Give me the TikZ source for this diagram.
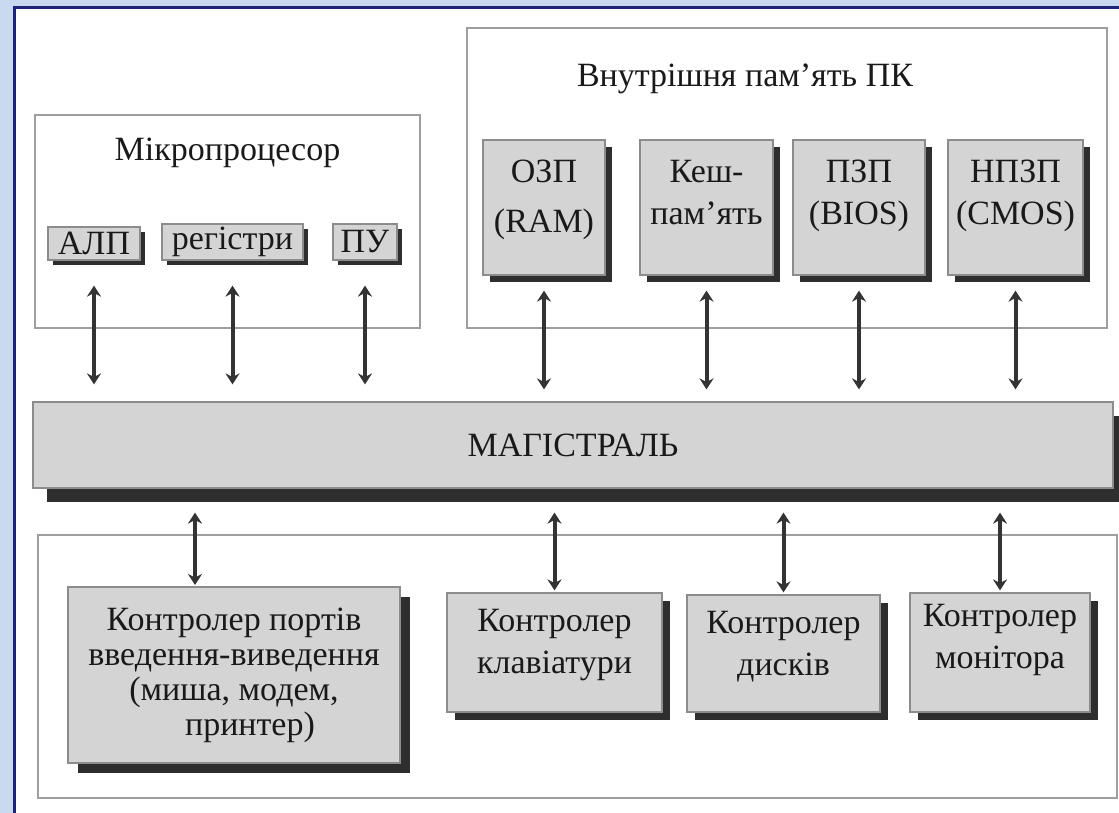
\documentclass[tikz,border=0pt]{standalone}
\usepackage{fontspec}
\setmainfont{Liberation Serif}
\usetikzlibrary{arrows.meta,shadows}
\definecolor{pageblue}{HTML}{C9DAF0}
\definecolor{framenavy}{HTML}{1E2478}
\definecolor{boxgrey}{HTML}{D4D4D4}
\definecolor{shadowgrey}{HTML}{2E2E2E}
\begin{document}
\begin{tikzpicture}[x=0.5pt, y=-0.5pt,
                every node/.style={text=black!90, font=\fontsize{17}{21}\selectfont},
                group/.style={draw=black!38, line width=1pt, fill=white, inner sep=0pt},
                unit/.style={draw=black!45, fill=boxgrey, line width=0.6pt, inner sep=0pt, align=center,
                    drop shadow={shadow xshift=#1, shadow yshift=-#1, fill=shadowgrey, opacity=1}},
                unit/.default=3.5pt,
                title/.style={anchor=north, inner sep=0pt, align=center},
                link/.style={{Stealth[length=5.5pt,width=7pt]}-{Stealth[length=5.5pt,width=7pt]},
                    line width=2pt, draw=black!80}]
                \useasboundingbox (0,0) rectangle (1119,813);
                \fill [pageblue] (0,0) rectangle (1119,813);
                \fill [white] (14,8) rectangle (1119,813);
                \draw [framenavy, line width=1.5pt] (14,813) -- (14,8) -- (1119,8);
                \node [group, minimum width=192.5pt, minimum height=106.5pt] (cpu) at (227.5,221.5) {};
                \node [title] (cputitle) at ([yshift=-12pt]cpu.north) {Мікропроцесор};
                \node [unit=2.5pt, minimum width=46pt, minimum height=16.5pt] (alu) at (94,243.5) {АЛП};
                \node [unit=2.5pt, minimum width=70.5pt, minimum height=18pt] (regs) at (232.5,242) {регістри};
                \node [unit=2.5pt, minimum width=32pt, minimum height=18pt] (cu) at (365,242) {ПУ};
                \node [group, minimum width=320pt, minimum height=150pt] (mem) at (787,178) {};
                \node [title] (memtitle) at ([xshift=-21pt, yshift=-18pt]mem.north) {Внутрішня пам'ять ПК};
                \node [unit, minimum width=61pt, minimum height=67.5pt] (ram) at (544,207.5) {};
                \node [title] (ramtext) at ([yshift=-10pt]ram.north) {ОЗП\\[4pt](RAM)};
                \node [unit, minimum width=66.5pt, minimum height=67.5pt] (cache) at (706.5,207.5) {};
                \node [title] (cachetext) at ([yshift=-10pt]cache.north) {Кеш-\\пам'ять};
                \node [unit, minimum width=66pt, minimum height=67.5pt] (rom) at (859,207.5) {};
                \node [title] (romtext) at ([yshift=-10pt]rom.north) {ПЗП\\(BIOS)};
                \node [unit, minimum width=67.5pt, minimum height=67.5pt] (cmos) at (1015.5,207.5) {};
                \node [title] (cmostext) at ([yshift=-10pt]cmos.north) {НПЗП\\(CMOS)};
                \node [unit=7pt, minimum width=540pt, minimum height=43pt] (bus) at (573,445) {МАГІСТРАЛЬ};
                \node [group, minimum width=539.5pt, minimum height=131.5pt] (io) at (577.5,666.5) {};
                \node [unit=5pt, minimum width=166pt, minimum height=88pt, font=\fontsize{17}{17.5}\selectfont] (port) at (234,675)
                    {Контролер портів\\введення-виведення\\(миша, модем,\\\hspace*{16pt}принтер)};
                \node [unit=4pt, minimum width=107.5pt, minimum height=59.5pt] (kbd) at (554.5,652.5) {};
                \node [title] (kbdtext) at ([yshift=-8pt]kbd.north) {Контролер\\клавіатури};
                \node [unit=4pt, minimum width=96.5pt, minimum height=58.5pt] (disk) at (783.5,653.5) {};
                \node [title] (disktext) at ([yshift=-8pt]disk.north) {Контролер\\дисків};
                \node [unit=4pt, minimum width=90pt, minimum height=59.5pt] (mon) at (1000,652.5) {};
                \node [title] (montext) at ([yshift=-5.5pt]mon.north) {Контролер\\монітора};
                \coordinate (porttop) at (195,587);
                \draw [link, shorten <=12.5pt, shorten >=8.5pt] (alu.south) -- (alu.south |- bus.north);
                \draw [link, shorten <=12.5pt, shorten >=8.5pt] (regs.south) -- (regs.south |- bus.north);
                \draw [link, shorten <=12.5pt, shorten >=8.5pt] (cu.south) -- (cu.south |- bus.north);
                \draw [link, shorten <=7.5pt, shorten >=6pt] (ram.south) -- (ram.south |- bus.north);
                \draw [link, shorten <=7.5pt, shorten >=6pt] (cache.south) -- (cache.south |- bus.north);
                \draw [link, shorten <=7.5pt, shorten >=6pt] (rom.south) -- (rom.south |- bus.north);
                \draw [link, shorten <=7.5pt, shorten >=6pt] (cmos.south) -- (cmos.south |- bus.north);
                \draw [link, shorten <=12pt, shorten >=1pt] (porttop |- bus.south) -- (porttop);
                \draw [link, shorten <=12pt, shorten >=1pt] (kbd.north |- bus.south) -- (kbd.north);
                \draw [link, shorten <=12pt, shorten >=1pt] (disk.north |- bus.south) -- (disk.north);
                \draw [link, shorten <=12pt, shorten >=1pt] (mon.north |- bus.south) -- (mon.north);
            \end{tikzpicture}
\end{document}
